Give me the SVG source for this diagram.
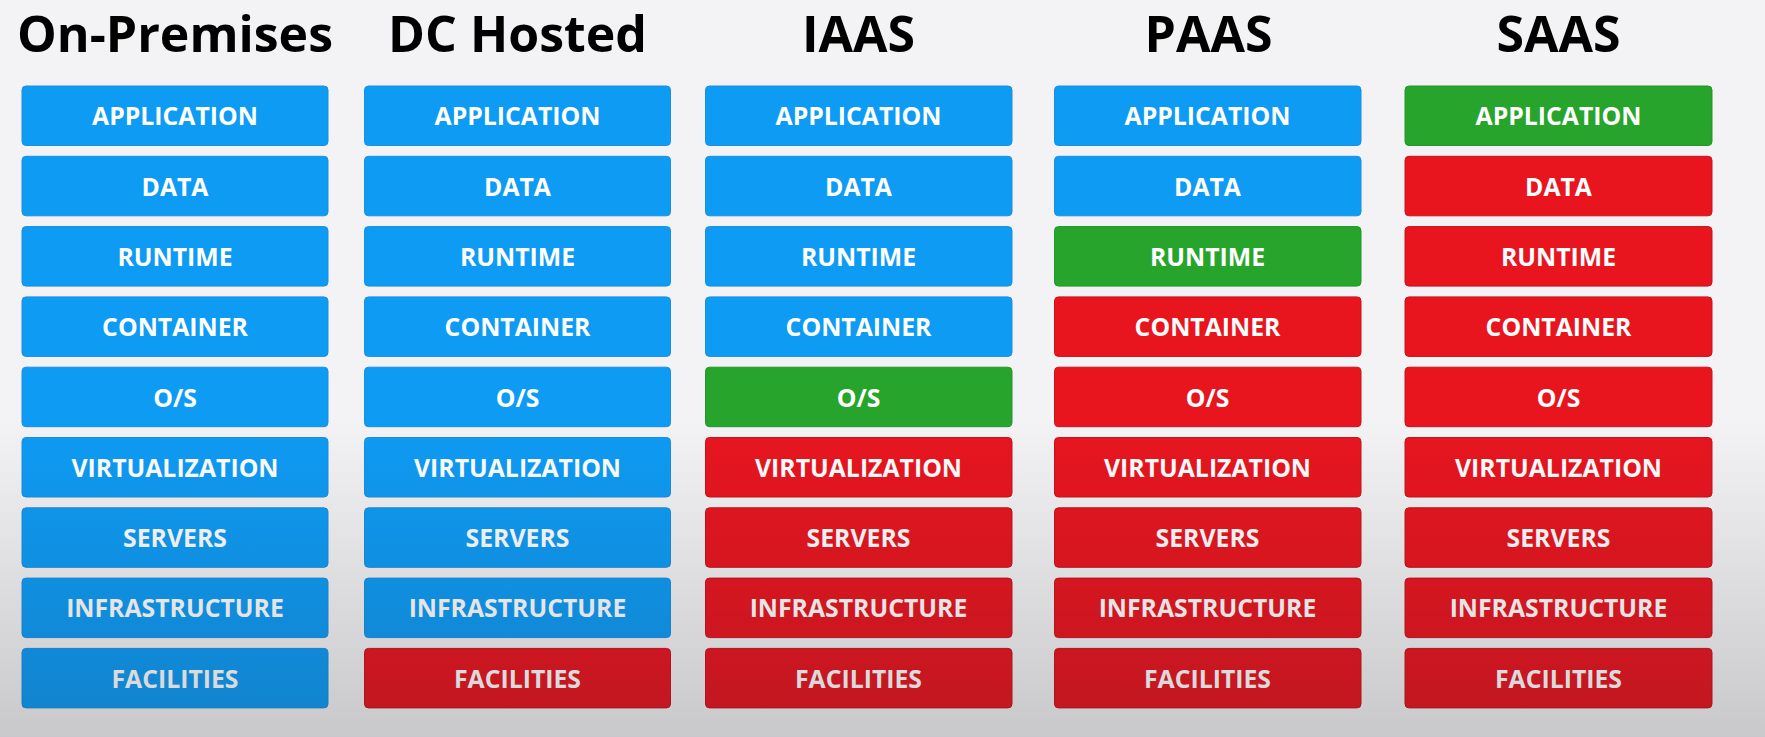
<svg xmlns="http://www.w3.org/2000/svg" width="1765" height="737" viewBox="0 0 1765 737">
  <defs>
    <linearGradient id="shade" x1="0" y1="0" x2="0" y2="737" gradientUnits="userSpaceOnUse">
      <stop offset="0" stop-color="#202028" stop-opacity="0"/>
      <stop offset="0.57" stop-color="#202028" stop-opacity="0"/>
      <stop offset="1" stop-color="#202028" stop-opacity="0.2"/>
    </linearGradient>
  </defs>
  <style>
    .bg { fill: #f3f3f5; }
    .title { font-family: "Open Sans", "Noto Sans", sans-serif; font-weight: 700; font-size: 50px; fill: #000; text-anchor: middle; }
    .box { stroke-width: 1; }
    .blue { fill: #0e9bf4; stroke: #1a8fe0; }
    .red { fill: #e8151f; stroke: #c8121b; }
    .green { fill: #27a42b; stroke: #23962a; }
    .lbl { font-family: "Open Sans", "Noto Sans", sans-serif; font-weight: 700; font-size: 24.8px; fill: #ffffff; text-anchor: middle; }
  </style>

  <rect class="bg" x="0" y="0" width="1765" height="737"/>

  <!-- column headings -->
  <g id="headings">
    <text class="title" x="175" y="52">On-Premises</text>
    <text class="title" x="517.5" y="52">DC Hosted</text>
    <text class="title" x="858.5" y="52">IAAS</text>
    <text class="title" x="1208.5" y="52">PAAS</text>
    <text class="title" x="1558.5" y="52">SAAS</text>
  </g>

  <!-- On-Premises stack -->
  <g id="onprem">
    <g id="onprem-application"><rect class="box blue" x="22" y="86" width="306" height="59.5" rx="4"/><text class="lbl" x="175" y="125.3">APPLICATION</text></g>
    <g id="onprem-data"><rect class="box blue" x="22" y="156.3" width="306" height="59.5" rx="4"/><text class="lbl" x="175" y="195.6">DATA</text></g>
    <g id="onprem-runtime"><rect class="box blue" x="22" y="226.6" width="306" height="59.5" rx="4"/><text class="lbl" x="175" y="265.9">RUNTIME</text></g>
    <g id="onprem-container"><rect class="box blue" x="22" y="296.9" width="306" height="59.5" rx="4"/><text class="lbl" x="175" y="336.2">CONTAINER</text></g>
    <g id="onprem-os"><rect class="box blue" x="22" y="367.2" width="306" height="59.5" rx="4"/><text class="lbl" x="175" y="406.5">O/S</text></g>
    <g id="onprem-virtualization"><rect class="box blue" x="22" y="437.5" width="306" height="59.5" rx="4"/><text class="lbl" x="175" y="476.8">VIRTUALIZATION</text></g>
    <g id="onprem-servers"><rect class="box blue" x="22" y="507.8" width="306" height="59.5" rx="4"/><text class="lbl" x="175" y="547.1">SERVERS</text></g>
    <g id="onprem-infrastructure"><rect class="box blue" x="22" y="578.1" width="306" height="59.5" rx="4"/><text class="lbl" x="175" y="617.4">INFRASTRUCTURE</text></g>
    <g id="onprem-facilities"><rect class="box blue" x="22" y="648.4" width="306" height="59.5" rx="4"/><text class="lbl" x="175" y="687.7">FACILITIES</text></g>
  </g>

  <!-- DC Hosted stack -->
  <g id="dchosted">
    <g id="dc-application"><rect class="box blue" x="364.5" y="86" width="306" height="59.5" rx="4"/><text class="lbl" x="517.5" y="125.3">APPLICATION</text></g>
    <g id="dc-data"><rect class="box blue" x="364.5" y="156.3" width="306" height="59.5" rx="4"/><text class="lbl" x="517.5" y="195.6">DATA</text></g>
    <g id="dc-runtime"><rect class="box blue" x="364.5" y="226.6" width="306" height="59.5" rx="4"/><text class="lbl" x="517.5" y="265.9">RUNTIME</text></g>
    <g id="dc-container"><rect class="box blue" x="364.5" y="296.9" width="306" height="59.5" rx="4"/><text class="lbl" x="517.5" y="336.2">CONTAINER</text></g>
    <g id="dc-os"><rect class="box blue" x="364.5" y="367.2" width="306" height="59.5" rx="4"/><text class="lbl" x="517.5" y="406.5">O/S</text></g>
    <g id="dc-virtualization"><rect class="box blue" x="364.5" y="437.5" width="306" height="59.5" rx="4"/><text class="lbl" x="517.5" y="476.8">VIRTUALIZATION</text></g>
    <g id="dc-servers"><rect class="box blue" x="364.5" y="507.8" width="306" height="59.5" rx="4"/><text class="lbl" x="517.5" y="547.1">SERVERS</text></g>
    <g id="dc-infrastructure"><rect class="box blue" x="364.5" y="578.1" width="306" height="59.5" rx="4"/><text class="lbl" x="517.5" y="617.4">INFRASTRUCTURE</text></g>
    <g id="dc-facilities"><rect class="box red" x="364.5" y="648.4" width="306" height="59.5" rx="4"/><text class="lbl" x="517.5" y="687.7">FACILITIES</text></g>
  </g>

  <!-- IAAS stack -->
  <g id="iaas">
    <g id="iaas-application"><rect class="box blue" x="705.5" y="86" width="306.5" height="59.5" rx="4"/><text class="lbl" x="858.5" y="125.3">APPLICATION</text></g>
    <g id="iaas-data"><rect class="box blue" x="705.5" y="156.3" width="306.5" height="59.5" rx="4"/><text class="lbl" x="858.5" y="195.6">DATA</text></g>
    <g id="iaas-runtime"><rect class="box blue" x="705.5" y="226.6" width="306.5" height="59.5" rx="4"/><text class="lbl" x="858.5" y="265.9">RUNTIME</text></g>
    <g id="iaas-container"><rect class="box blue" x="705.5" y="296.9" width="306.5" height="59.5" rx="4"/><text class="lbl" x="858.5" y="336.2">CONTAINER</text></g>
    <g id="iaas-os"><rect class="box green" x="705.5" y="367.2" width="306.5" height="59.5" rx="4"/><text class="lbl" x="858.5" y="406.5">O/S</text></g>
    <g id="iaas-virtualization"><rect class="box red" x="705.5" y="437.5" width="306.5" height="59.5" rx="4"/><text class="lbl" x="858.5" y="476.8">VIRTUALIZATION</text></g>
    <g id="iaas-servers"><rect class="box red" x="705.5" y="507.8" width="306.5" height="59.5" rx="4"/><text class="lbl" x="858.5" y="547.1">SERVERS</text></g>
    <g id="iaas-infrastructure"><rect class="box red" x="705.5" y="578.1" width="306.5" height="59.5" rx="4"/><text class="lbl" x="858.5" y="617.4">INFRASTRUCTURE</text></g>
    <g id="iaas-facilities"><rect class="box red" x="705.5" y="648.4" width="306.5" height="59.5" rx="4"/><text class="lbl" x="858.5" y="687.7">FACILITIES</text></g>
  </g>

  <!-- PAAS stack -->
  <g id="paas">
    <g id="paas-application"><rect class="box blue" x="1054.5" y="86" width="306.5" height="59.5" rx="4"/><text class="lbl" x="1207.5" y="125.3">APPLICATION</text></g>
    <g id="paas-data"><rect class="box blue" x="1054.5" y="156.3" width="306.5" height="59.5" rx="4"/><text class="lbl" x="1207.5" y="195.6">DATA</text></g>
    <g id="paas-runtime"><rect class="box green" x="1054.5" y="226.6" width="306.5" height="59.5" rx="4"/><text class="lbl" x="1207.5" y="265.9">RUNTIME</text></g>
    <g id="paas-container"><rect class="box red" x="1054.5" y="296.9" width="306.5" height="59.5" rx="4"/><text class="lbl" x="1207.5" y="336.2">CONTAINER</text></g>
    <g id="paas-os"><rect class="box red" x="1054.5" y="367.2" width="306.5" height="59.5" rx="4"/><text class="lbl" x="1207.5" y="406.5">O/S</text></g>
    <g id="paas-virtualization"><rect class="box red" x="1054.5" y="437.5" width="306.5" height="59.5" rx="4"/><text class="lbl" x="1207.5" y="476.8">VIRTUALIZATION</text></g>
    <g id="paas-servers"><rect class="box red" x="1054.5" y="507.8" width="306.5" height="59.5" rx="4"/><text class="lbl" x="1207.5" y="547.1">SERVERS</text></g>
    <g id="paas-infrastructure"><rect class="box red" x="1054.5" y="578.1" width="306.5" height="59.5" rx="4"/><text class="lbl" x="1207.5" y="617.4">INFRASTRUCTURE</text></g>
    <g id="paas-facilities"><rect class="box red" x="1054.5" y="648.4" width="306.5" height="59.5" rx="4"/><text class="lbl" x="1207.5" y="687.7">FACILITIES</text></g>
  </g>

  <!-- SAAS stack -->
  <g id="saas">
    <g id="saas-application"><rect class="box green" x="1405" y="86" width="307" height="59.5" rx="4"/><text class="lbl" x="1558.5" y="125.3">APPLICATION</text></g>
    <g id="saas-data"><rect class="box red" x="1405" y="156.3" width="307" height="59.5" rx="4"/><text class="lbl" x="1558.5" y="195.6">DATA</text></g>
    <g id="saas-runtime"><rect class="box red" x="1405" y="226.6" width="307" height="59.5" rx="4"/><text class="lbl" x="1558.5" y="265.9">RUNTIME</text></g>
    <g id="saas-container"><rect class="box red" x="1405" y="296.9" width="307" height="59.5" rx="4"/><text class="lbl" x="1558.5" y="336.2">CONTAINER</text></g>
    <g id="saas-os"><rect class="box red" x="1405" y="367.2" width="307" height="59.5" rx="4"/><text class="lbl" x="1558.5" y="406.5">O/S</text></g>
    <g id="saas-virtualization"><rect class="box red" x="1405" y="437.5" width="307" height="59.5" rx="4"/><text class="lbl" x="1558.5" y="476.8">VIRTUALIZATION</text></g>
    <g id="saas-servers"><rect class="box red" x="1405" y="507.8" width="307" height="59.5" rx="4"/><text class="lbl" x="1558.5" y="547.1">SERVERS</text></g>
    <g id="saas-infrastructure"><rect class="box red" x="1405" y="578.1" width="307" height="59.5" rx="4"/><text class="lbl" x="1558.5" y="617.4">INFRASTRUCTURE</text></g>
    <g id="saas-facilities"><rect class="box red" x="1405" y="648.4" width="307" height="59.5" rx="4"/><text class="lbl" x="1558.5" y="687.7">FACILITIES</text></g>
  </g>

  <!-- soft darkening toward the bottom edge -->
  <rect x="0" y="0" width="1765" height="737" fill="url(#shade)" pointer-events="none"/>
</svg>
